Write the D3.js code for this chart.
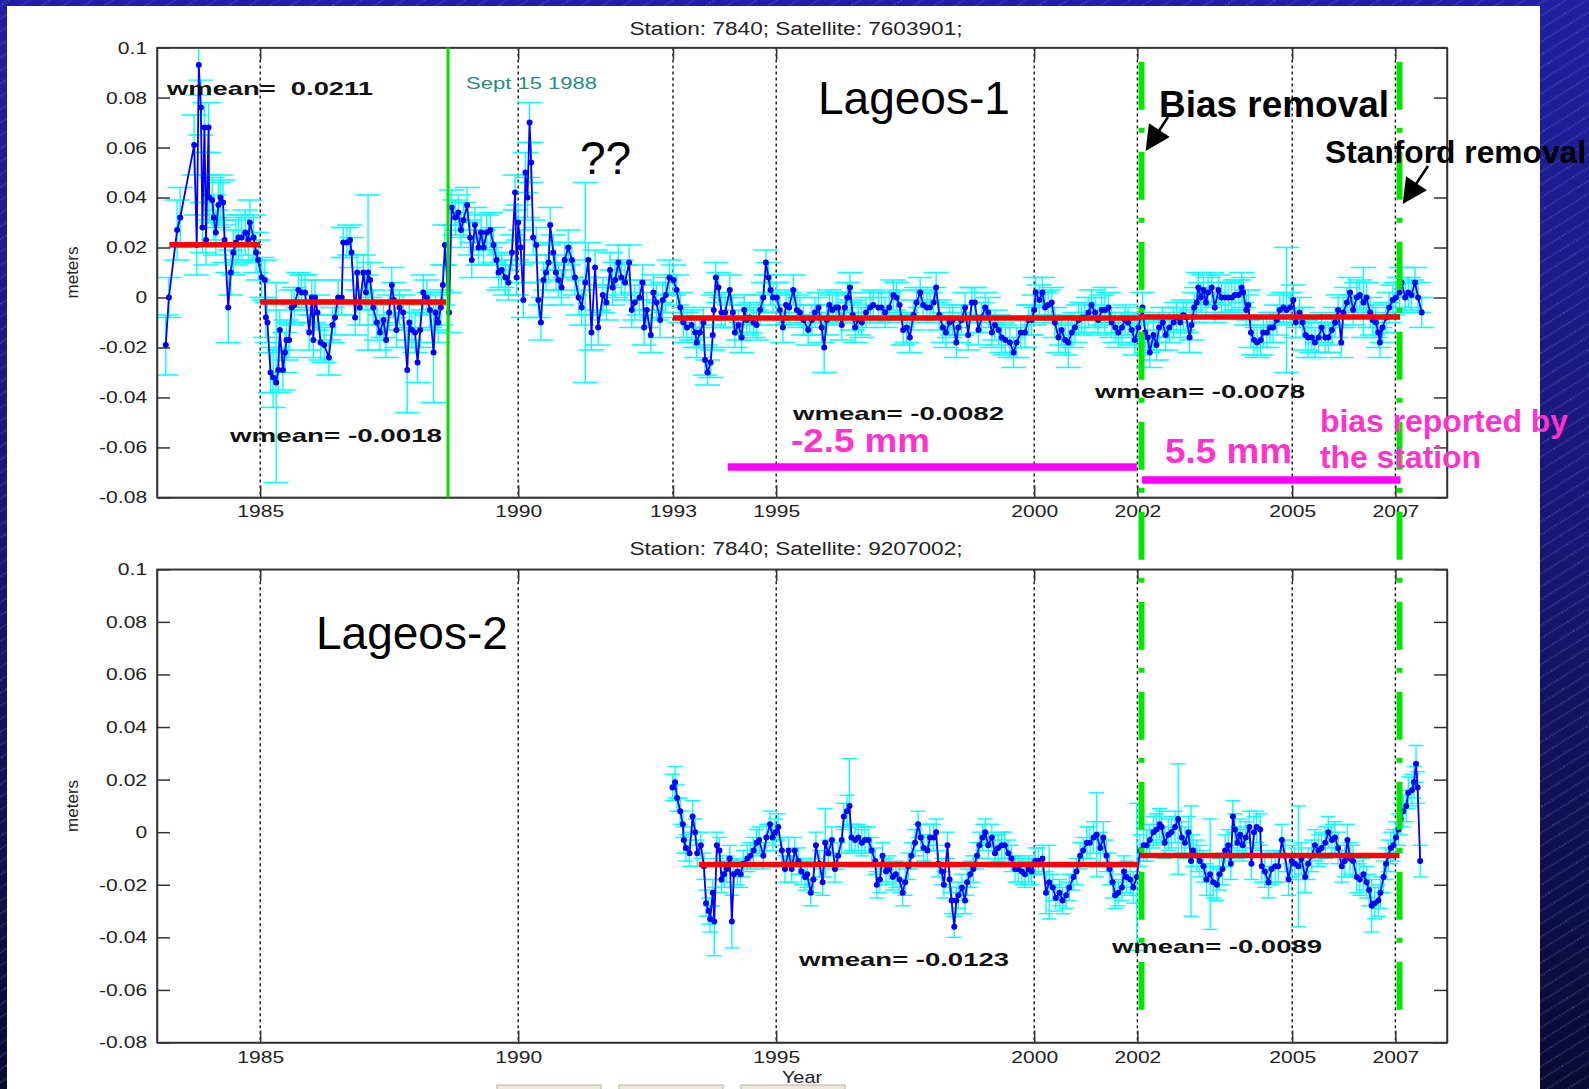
<!DOCTYPE html>
<html>
<head>
<meta charset="utf-8">
<script src="https://cdn.jsdelivr.net/npm/d3@7"></script>
<style>
html, body { margin: 0; padding: 0; background: #0b0b36; overflow: hidden; }
svg { display: block; }
</style>
</head>
<body>
<div id="chart"></div>
<script>
var svgWidth = 1589;
var svgHeight = 1089;

// ---- data: [year, weighted residual (m), error (m)] ----
var lageos1 = [
  [1983.17,-0.019,0.012],[1983.23,0.000,0.008],[1983.39,0.027,0.012],[1983.45,0.032,0.012],[1983.72,0.061,0.012],
  [1983.77,0.021,0.012],[1983.81,0.093,0.012],[1983.85,0.076,0.011],[1983.88,0.028,0.010],[1983.92,0.068,0.010],
  [1983.95,0.023,0.010],[1984.00,0.068,0.010],[1984.01,0.040,0.009],[1984.07,0.039,0.009],[1984.10,0.032,0.009],
  [1984.14,0.026,0.009],[1984.19,0.037,0.009],[1984.23,0.040,0.009],[1984.28,0.038,0.009],[1984.31,0.023,0.009],
  [1984.38,-0.004,0.014],[1984.43,0.010,0.009],[1984.48,0.018,0.009],[1984.53,0.022,0.009],[1984.58,0.024,0.009],
  [1984.64,0.024,0.009],[1984.71,0.026,0.009],[1984.77,0.023,0.009],[1984.80,0.030,0.009],[1984.87,0.024,0.009],
  [1984.92,0.018,0.008],[1984.96,0.015,0.008],[1985.03,0.008,0.008],[1985.09,0.007,0.008],[1985.11,-0.008,0.008],
  [1985.14,-0.010,0.008],[1985.20,-0.030,0.008],[1985.25,-0.032,0.012],[1985.31,-0.034,0.040],[1985.35,-0.029,0.009],
  [1985.38,-0.013,0.008],[1985.44,-0.029,0.008],[1985.48,-0.022,0.008],[1985.51,-0.017,0.008],[1985.56,-0.017,0.007],
  [1985.61,-0.004,0.007],[1985.66,-0.003,0.007],[1985.74,0.003,0.007],[1985.80,0.002,0.007],[1985.87,0.002,0.007],
  [1985.95,-0.014,0.007],[1986.00,0.000,0.007],[1986.03,-0.017,0.007],[1986.06,0.000,0.007],[1986.11,-0.006,0.007],
  [1986.17,-0.018,0.007],[1986.24,-0.019,0.007],[1986.33,-0.024,0.007],[1986.40,-0.011,0.007],[1986.45,-0.008,0.007],
  [1986.51,0.000,0.007],[1986.58,0.000,0.007],[1986.61,0.022,0.006],[1986.68,0.022,0.006],[1986.74,0.023,0.006],
  [1986.77,0.018,0.006],[1986.84,-0.008,0.007],[1986.88,0.010,0.007],[1986.93,-0.004,0.007],[1987.00,0.010,0.007],
  [1987.05,0.002,0.007],[1987.09,0.010,0.031],[1987.13,0.007,0.007],[1987.19,-0.004,0.007],[1987.26,-0.010,0.007],
  [1987.32,-0.014,0.007],[1987.39,-0.009,0.007],[1987.44,-0.017,0.007],[1987.50,-0.006,0.007],[1987.55,0.005,0.007],
  [1987.59,-0.001,0.007],[1987.64,-0.013,0.007],[1987.70,-0.004,0.007],[1987.77,-0.006,0.007],[1987.85,-0.029,0.017],
  [1987.89,-0.010,0.007],[1987.94,-0.013,0.007],[1988.00,-0.014,0.008],[1988.05,-0.026,0.008],[1988.10,-0.013,0.007],
  [1988.16,0.002,0.007],[1988.23,0.000,0.007],[1988.29,-0.005,0.007],[1988.36,-0.022,0.020],[1988.40,-0.006,0.007],
  [1988.45,-0.010,0.008],[1988.50,-0.004,0.007],[1988.54,0.005,0.008],[1988.58,0.021,0.008],[1988.66,-0.006,0.008],
  [1988.71,0.036,0.007],[1988.78,0.032,0.007],[1988.84,0.034,0.007],[1988.89,0.027,0.007],[1988.94,0.031,0.007],
  [1989.01,0.037,0.007],[1989.07,0.024,0.007],[1989.10,0.015,0.007],[1989.16,0.029,0.007],[1989.23,0.020,0.007],
  [1989.28,0.026,0.007],[1989.33,0.020,0.007],[1989.39,0.026,0.007],[1989.46,0.027,0.007],[1989.52,0.021,0.007],
  [1989.58,0.015,0.007],[1989.62,0.010,0.007],[1989.68,0.011,0.007],[1989.75,0.008,0.007],[1989.81,0.006,0.007],
  [1989.88,0.018,0.007],[1989.94,0.042,0.007],[1989.97,0.008,0.007],[1990.00,0.030,0.007],[1990.05,0.020,0.007],
  [1990.10,-0.001,0.007],[1990.14,0.050,0.008],[1990.18,0.040,0.008],[1990.22,0.070,0.008],[1990.25,0.054,0.008],
  [1990.29,0.024,0.007],[1990.35,0.021,0.007],[1990.39,-0.001,0.007],[1990.44,-0.010,0.007],[1990.49,0.007,0.007],
  [1990.54,0.010,0.007],[1990.59,0.014,0.007],[1990.62,0.029,0.007],[1990.68,0.018,0.007],[1990.73,0.010,0.007],
  [1990.78,0.007,0.007],[1990.84,0.004,0.007],[1990.90,0.015,0.007],[1990.97,0.020,0.007],[1991.04,0.015,0.007],
  [1991.10,0.008,0.007],[1991.17,0.000,0.007],[1991.23,-0.004,0.007],[1991.30,0.006,0.040],[1991.36,0.015,0.007],
  [1991.42,-0.014,0.007],[1991.49,0.012,0.007],[1991.55,-0.012,0.007],[1991.64,0.001,0.007],[1991.71,-0.002,0.007],
  [1991.78,0.011,0.007],[1991.83,0.004,0.007],[1991.88,0.007,0.007],[1991.94,0.014,0.007],[1992.00,0.008,0.007],
  [1992.07,0.006,0.007],[1992.15,0.014,0.007],[1992.20,-0.005,0.007],[1992.26,-0.002,0.007],[1992.35,0.000,0.007],
  [1992.41,0.006,0.007],[1992.44,-0.012,0.007],[1992.49,-0.005,0.007],[1992.57,-0.015,0.007],[1992.62,0.002,0.007],
  [1992.68,-0.002,0.007],[1992.75,-0.009,0.007],[1992.80,-0.001,0.007],[1992.86,0.001,0.007],[1992.93,0.008,0.007],
  [1993.01,0.007,0.006],[1993.07,0.003,0.006],[1993.14,-0.004,0.006],[1993.20,-0.010,0.006],[1993.27,-0.012,0.006],
  [1993.36,-0.011,0.006],[1993.43,-0.014,0.006],[1993.46,-0.018,0.006],[1993.52,-0.014,0.006],[1993.59,-0.010,0.006],
  [1993.62,-0.025,0.006],[1993.67,-0.030,0.005],[1993.73,-0.026,0.006],[1993.77,-0.015,0.006],[1993.79,-0.005,0.006],
  [1993.83,0.008,0.006],[1993.88,0.004,0.006],[1993.94,-0.006,0.006],[1994.01,-0.006,0.006],[1994.10,0.003,0.006],
  [1994.16,-0.006,0.006],[1994.20,-0.014,0.006],[1994.27,-0.011,0.006],[1994.33,-0.016,0.006],[1994.38,-0.005,0.006],
  [1994.43,-0.009,0.006],[1994.49,-0.008,0.006],[1994.56,-0.010,0.006],[1994.62,-0.011,0.006],[1994.69,-0.005,0.006],
  [1994.75,0.000,0.006],[1994.80,0.014,0.005],[1994.85,0.008,0.006],[1994.89,0.003,0.006],[1994.94,0.000,0.006],
  [1995.01,0.000,0.006],[1995.07,-0.005,0.006],[1995.13,-0.012,0.006],[1995.19,-0.003,0.006],[1995.25,-0.004,0.006],
  [1995.33,0.003,0.006],[1995.40,-0.005,0.006],[1995.46,-0.006,0.006],[1995.53,-0.009,0.006],[1995.62,-0.013,0.006],
  [1995.69,-0.009,0.006],[1995.75,-0.006,0.006],[1995.82,-0.004,0.006],[1995.88,-0.012,0.006],[1995.93,-0.020,0.010],
  [1995.98,-0.009,0.006],[1996.03,-0.003,0.006],[1996.09,-0.005,0.006],[1996.16,-0.004,0.006],[1996.20,-0.004,0.006],
  [1996.27,-0.011,0.006],[1996.33,-0.004,0.006],[1996.38,0.000,0.006],[1996.43,0.004,0.006],[1996.48,-0.007,0.006],
  [1996.53,-0.012,0.006],[1996.59,-0.009,0.006],[1996.66,-0.010,0.006],[1996.74,-0.006,0.006],[1996.82,-0.004,0.006],
  [1996.88,-0.003,0.006],[1996.98,-0.004,0.006],[1997.04,-0.004,0.006],[1997.11,-0.006,0.006],[1997.19,-0.004,0.006],
  [1997.27,0.001,0.006],[1997.33,0.000,0.006],[1997.39,-0.003,0.006],[1997.46,-0.013,0.006],[1997.53,-0.012,0.006],
  [1997.59,-0.016,0.006],[1997.66,-0.007,0.006],[1997.72,-0.002,0.006],[1997.79,0.002,0.006],[1997.85,-0.003,0.006],
  [1997.92,-0.004,0.006],[1997.98,-0.004,0.006],[1998.05,-0.002,0.006],[1998.10,0.004,0.006],[1998.16,-0.007,0.006],
  [1998.23,-0.012,0.006],[1998.29,-0.014,0.006],[1998.36,-0.010,0.006],[1998.42,-0.009,0.006],[1998.49,-0.018,0.006],
  [1998.53,-0.012,0.006],[1998.59,-0.009,0.006],[1998.66,-0.004,0.006],[1998.72,-0.015,0.006],[1998.79,-0.002,0.006],
  [1998.85,-0.002,0.006],[1998.92,-0.013,0.006],[1998.98,-0.008,0.006],[1999.05,-0.004,0.006],[1999.11,-0.006,0.006],
  [1999.18,-0.014,0.006],[1999.24,-0.011,0.006],[1999.31,-0.013,0.006],[1999.37,-0.016,0.006],[1999.44,-0.017,0.006],
  [1999.53,-0.018,0.006],[1999.60,-0.022,0.006],[1999.66,-0.018,0.006],[1999.74,-0.014,0.006],[1999.82,-0.014,0.006],
  [1999.89,-0.009,0.006],[1999.95,-0.009,0.006],[2000.00,-0.005,0.006],[2000.03,0.002,0.006],[2000.10,-0.001,0.006],
  [2000.16,0.002,0.006],[2000.21,-0.004,0.006],[2000.27,-0.003,0.006],[2000.34,-0.002,0.006],[2000.40,-0.010,0.006],
  [2000.47,-0.016,0.006],[2000.53,-0.013,0.006],[2000.60,-0.017,0.006],[2000.66,-0.018,0.010],[2000.73,-0.014,0.006],
  [2000.79,-0.012,0.006],[2000.86,-0.009,0.006],[2000.92,-0.008,0.006],[2000.98,-0.008,0.006],[2001.05,-0.006,0.006],
  [2001.11,-0.003,0.006],[2001.18,-0.006,0.006],[2001.24,-0.009,0.006],[2001.31,-0.005,0.006],[2001.37,-0.005,0.009],
  [2001.44,-0.004,0.006],[2001.50,-0.010,0.006],[2001.57,-0.012,0.006],[2001.63,-0.014,0.006],[2001.70,-0.012,0.006],
  [2001.76,-0.009,0.006],[2001.82,-0.010,0.006],[2001.89,-0.013,0.006],[2001.95,-0.017,0.006],[2002.02,-0.012,0.006],
  [2002.10,-0.004,0.006],[2002.15,-0.014,0.006],[2002.20,-0.016,0.006],[2002.24,-0.022,0.006],[2002.31,-0.015,0.006],
  [2002.37,-0.019,0.006],[2002.42,-0.012,0.006],[2002.49,-0.010,0.006],[2002.55,-0.015,0.006],[2002.62,-0.012,0.006],
  [2002.70,-0.010,0.006],[2002.76,-0.008,0.006],[2002.83,-0.010,0.006],[2002.89,-0.007,0.006],[2002.95,-0.008,0.006],
  [2003.01,-0.016,0.006],[2003.05,-0.011,0.006],[2003.10,-0.004,0.006],[2003.15,-0.002,0.006],[2003.18,0.004,0.006],
  [2003.23,0.000,0.006],[2003.28,0.003,0.006],[2003.33,-0.002,0.006],[2003.37,0.002,0.006],[2003.44,0.004,0.006],
  [2003.50,-0.004,0.006],[2003.57,0.003,0.006],[2003.63,0.000,0.006],[2003.70,0.000,0.006],[2003.76,0.000,0.006],
  [2003.83,0.000,0.006],[2003.89,0.001,0.006],[2003.96,0.001,0.006],[2004.02,0.004,0.006],[2004.05,0.002,0.006],
  [2004.11,-0.005,0.006],[2004.15,-0.003,0.006],[2004.20,-0.014,0.006],[2004.26,-0.017,0.006],[2004.32,-0.018,0.006],
  [2004.39,-0.017,0.006],[2004.44,-0.014,0.006],[2004.51,-0.014,0.006],[2004.57,-0.012,0.006],[2004.63,-0.012,0.006],
  [2004.70,-0.009,0.006],[2004.76,-0.005,0.006],[2004.83,-0.004,0.006],[2004.89,-0.005,0.025],[2004.96,-0.004,0.006],
  [2005.02,-0.001,0.006],[2005.07,-0.010,0.006],[2005.14,-0.006,0.006],[2005.20,-0.010,0.006],[2005.26,-0.015,0.006],
  [2005.31,-0.016,0.008],[2005.38,-0.016,0.006],[2005.44,-0.018,0.006],[2005.51,-0.016,0.006],[2005.57,-0.012,0.006],
  [2005.64,-0.016,0.006],[2005.70,-0.016,0.006],[2005.77,-0.013,0.006],[2005.83,-0.010,0.006],[2005.89,-0.005,0.006],
  [2005.95,-0.018,0.006],[2005.99,-0.006,0.006],[2006.06,-0.002,0.006],[2006.12,0.002,0.006],[2006.18,-0.005,0.006],
  [2006.25,0.000,0.006],[2006.31,0.001,0.006],[2006.38,-0.002,0.014],[2006.44,0.000,0.006],[2006.51,-0.006,0.006],
  [2006.56,-0.009,0.006],[2006.62,-0.010,0.006],[2006.67,-0.014,0.006],[2006.70,-0.018,0.006],[2006.75,-0.012,0.006],
  [2006.82,-0.008,0.006],[2006.88,-0.004,0.006],[2006.95,-0.001,0.006],[2007.01,0.000,0.006],[2007.08,0.002,0.006],
  [2007.12,0.006,0.006],[2007.19,0.000,0.006],[2007.25,0.002,0.006],[2007.31,0.001,0.006],[2007.38,0.006,0.006],
  [2007.44,0.000,0.006],[2007.51,-0.006,0.006]
];

var lageos2 = [
  [1992.99,0.017,0.005],[1993.04,0.019,0.006],[1993.08,0.013,0.005],[1993.14,0.008,0.005],[1993.19,0.003,0.005],
  [1993.21,-0.003,0.005],[1993.25,-0.006,0.005],[1993.32,-0.008,0.005],[1993.38,0.006,0.006],[1993.43,0.000,0.005],
  [1993.47,-0.008,0.005],[1993.54,-0.005,0.005],[1993.60,-0.013,0.005],[1993.64,-0.027,0.005],[1993.69,-0.030,0.005],
  [1993.72,-0.033,0.005],[1993.77,-0.023,0.005],[1993.80,-0.034,0.013],[1993.85,-0.005,0.005],[1993.90,-0.007,0.005],
  [1993.94,-0.018,0.005],[1993.99,-0.016,0.005],[1994.04,-0.014,0.005],[1994.10,-0.010,0.005],[1994.14,-0.034,0.010],
  [1994.18,-0.016,0.005],[1994.25,-0.015,0.005],[1994.31,-0.016,0.005],[1994.36,-0.012,0.005],[1994.44,-0.010,0.005],
  [1994.50,-0.009,0.005],[1994.56,-0.007,0.005],[1994.62,-0.004,0.005],[1994.67,-0.003,0.005],[1994.75,-0.009,0.005],
  [1994.81,-0.002,0.005],[1994.88,0.003,0.005],[1994.93,-0.002,0.005],[1994.98,0.000,0.005],[1995.04,0.002,0.005],
  [1995.11,-0.007,0.005],[1995.17,-0.014,0.005],[1995.24,-0.007,0.005],[1995.30,-0.014,0.005],[1995.36,-0.007,0.005],
  [1995.43,-0.011,0.005],[1995.49,-0.015,0.005],[1995.56,-0.017,0.005],[1995.60,-0.016,0.005],[1995.67,-0.023,0.005],
  [1995.72,-0.018,0.005],[1995.77,-0.005,0.005],[1995.84,-0.012,0.005],[1995.90,-0.019,0.005],[1995.95,-0.004,0.013],
  [1996.01,-0.008,0.005],[1996.08,-0.003,0.005],[1996.14,-0.014,0.005],[1996.20,-0.009,0.005],[1996.27,-0.003,0.005],
  [1996.31,0.006,0.005],[1996.37,0.008,0.006],[1996.42,0.010,0.018],[1996.46,-0.002,0.005],[1996.53,-0.003,0.005],
  [1996.59,-0.002,0.005],[1996.66,-0.004,0.005],[1996.72,-0.003,0.005],[1996.79,-0.003,0.005],[1996.85,-0.007,0.005],
  [1996.92,-0.011,0.005],[1996.95,-0.020,0.005],[1997.01,-0.018,0.005],[1997.06,-0.009,0.005],[1997.13,-0.015,0.005],
  [1997.19,-0.014,0.005],[1997.26,-0.017,0.005],[1997.32,-0.016,0.005],[1997.39,-0.018,0.005],[1997.45,-0.023,0.005],
  [1997.50,-0.019,0.005],[1997.56,-0.013,0.005],[1997.62,-0.009,0.005],[1997.69,-0.004,0.005],[1997.75,0.003,0.005],
  [1997.80,-0.002,0.005],[1997.86,-0.006,0.005],[1997.93,-0.007,0.005],[1997.98,-0.002,0.005],[1998.05,-0.002,0.005],
  [1998.10,0.000,0.005],[1998.14,-0.012,0.005],[1998.21,-0.015,0.005],[1998.25,-0.020,0.005],[1998.32,-0.005,0.005],
  [1998.36,-0.018,0.005],[1998.40,-0.026,0.005],[1998.45,-0.036,0.004],[1998.49,-0.026,0.005],[1998.53,-0.024,0.005],
  [1998.60,-0.021,0.005],[1998.66,-0.026,0.005],[1998.70,-0.019,0.005],[1998.76,-0.016,0.005],[1998.82,-0.014,0.005],
  [1998.89,-0.009,0.005],[1998.94,-0.005,0.005],[1999.00,-0.002,0.005],[1999.05,0.000,0.005],[1999.11,-0.005,0.005],
  [1999.18,-0.002,0.005],[1999.24,-0.008,0.005],[1999.30,-0.006,0.005],[1999.37,-0.005,0.005],[1999.43,-0.005,0.005],
  [1999.50,-0.008,0.005],[1999.56,-0.010,0.005],[1999.63,-0.014,0.005],[1999.69,-0.014,0.005],[1999.76,-0.015,0.005],
  [1999.82,-0.016,0.005],[1999.89,-0.014,0.005],[1999.95,-0.015,0.005],[2000.02,-0.011,0.005],[2000.08,-0.011,0.005],
  [2000.16,-0.010,0.005],[2000.23,-0.023,0.008],[2000.29,-0.019,0.014],[2000.36,-0.021,0.005],[2000.42,-0.025,0.005],
  [2000.49,-0.023,0.005],[2000.55,-0.026,0.005],[2000.62,-0.024,0.005],[2000.68,-0.021,0.005],[2000.76,-0.017,0.005],
  [2000.82,-0.015,0.005],[2000.89,-0.009,0.005],[2000.95,-0.007,0.005],[2001.02,-0.004,0.006],[2001.08,-0.004,0.006],
  [2001.15,-0.002,0.006],[2001.21,-0.001,0.016],[2001.28,-0.006,0.006],[2001.34,-0.002,0.006],[2001.40,-0.009,0.006],
  [2001.46,-0.014,0.006],[2001.52,-0.019,0.006],[2001.57,-0.024,0.005],[2001.63,-0.023,0.005],[2001.70,-0.021,0.005],
  [2001.74,-0.015,0.006],[2001.79,-0.017,0.006],[2001.86,-0.018,0.006],[2001.92,-0.021,0.006],[2001.99,-0.017,0.028],
  [2002.05,-0.007,0.006],[2002.12,-0.005,0.006],[2002.18,-0.005,0.006],[2002.24,-0.003,0.006],[2002.31,0.000,0.006],
  [2002.37,0.001,0.006],[2002.43,0.003,0.006],[2002.47,0.002,0.006],[2002.53,-0.004,0.006],[2002.60,-0.001,0.006],
  [2002.66,0.000,0.006],[2002.73,0.002,0.006],[2002.79,0.005,0.021],[2002.86,-0.002,0.006],[2002.92,-0.004,0.006],
  [2002.99,0.000,0.006],[2003.04,-0.011,0.021],[2003.08,-0.007,0.006],[2003.15,-0.009,0.006],[2003.21,-0.011,0.006],
  [2003.28,-0.013,0.006],[2003.34,-0.018,0.006],[2003.41,-0.016,0.021],[2003.47,-0.019,0.006],[2003.54,-0.020,0.006],
  [2003.59,-0.016,0.006],[2003.65,-0.014,0.006],[2003.70,-0.007,0.006],[2003.76,-0.005,0.006],[2003.81,-0.012,0.006],
  [2003.85,0.006,0.006],[2003.89,0.001,0.006],[2003.94,-0.004,0.006],[2003.99,-0.001,0.006],[2004.04,-0.005,0.006],
  [2004.10,-0.002,0.006],[2004.17,0.002,0.006],[2004.21,-0.012,0.006],[2004.26,0.000,0.006],[2004.31,0.002,0.006],
  [2004.38,0.001,0.006],[2004.41,-0.013,0.006],[2004.47,-0.015,0.006],[2004.54,-0.019,0.006],[2004.60,-0.014,0.006],
  [2004.67,-0.013,0.006],[2004.73,-0.013,0.006],[2004.80,-0.003,0.006],[2004.86,-0.009,0.006],[2004.93,-0.018,0.006],
  [2004.99,-0.011,0.006],[2005.05,-0.012,0.006],[2005.12,-0.013,0.023],[2005.18,-0.010,0.006],[2005.25,-0.017,0.006],
  [2005.31,-0.012,0.006],[2005.38,-0.009,0.006],[2005.44,-0.005,0.006],[2005.51,-0.007,0.006],[2005.57,-0.006,0.006],
  [2005.64,-0.004,0.006],[2005.70,0.000,0.006],[2005.77,-0.003,0.006],[2005.83,-0.002,0.006],[2005.89,-0.006,0.006],
  [2005.96,-0.013,0.006],[2006.02,-0.011,0.006],[2006.07,-0.003,0.006],[2006.12,-0.010,0.006],[2006.18,-0.011,0.006],
  [2006.25,-0.017,0.006],[2006.31,-0.018,0.006],[2006.38,-0.016,0.006],[2006.44,-0.019,0.006],[2006.49,-0.022,0.006],
  [2006.54,-0.028,0.010],[2006.60,-0.027,0.006],[2006.67,-0.026,0.006],[2006.71,-0.023,0.006],[2006.77,-0.017,0.006],
  [2006.82,-0.012,0.006],[2006.86,-0.009,0.006],[2006.91,-0.006,0.006],[2006.96,-0.005,0.006],[2007.01,-0.002,0.006],
  [2007.06,0.001,0.006],[2007.10,0.005,0.006],[2007.15,0.008,0.006],[2007.21,0.010,0.006],[2007.25,0.015,0.006],
  [2007.32,0.016,0.006],[2007.36,0.019,0.006],[2007.40,0.026,0.007],[2007.43,0.017,0.006],[2007.48,-0.011,0.006]
];

// weighted means: [from year, to year, value]
var lageos1Means = [[1983.24,1985.0,0.0211],[1985.0,1988.6,-0.0018],[1993.0,2002.02,-0.0082],[2002.02,2007.09,-0.0078]];
var lageos1MeanLabels = ["wmean=  0.0211","wmean= -0.0018","wmean= -0.0082","wmean= -0.0078"];
var lageos2Means = [[1993.5,2002.02,-0.0123],[2002.05,2007.08,-0.0089]];
var lageos2MeanLabels = ["wmean= -0.0123","wmean= -0.0089"];

// station-reported biases drawn in the top panel
var biasBars = [[1994.06,2001.99,-0.0678],[2002.09,2007.10,-0.0730]];
var biasLabels = ["-2.5 mm","5.5 mm"];

var septEvent = 1988.64;
var removalYears = [2002.08, 2007.08];

var topYearTicks = [1985,1990,1993,1995,2000,2002,2005,2007];
var bottomYearTicks = [1985,1990,1995,2000,2002,2005,2007];
var yTicks = [-0.08,-0.06,-0.04,-0.02,0,0.02,0.04,0.06,0.08,0.1];
var yTickLabels = ["-0.08","-0.06","-0.04","-0.02","0","0.02","0.04","0.06","0.08","0.1"];

var FONT = "'Liberation Sans', Arial, Helvetica, sans-serif";
var STRETCH = 1.24;

var svg = d3.select('#chart').append('svg')
    .attr('width', svgWidth)
    .attr('height', svgHeight);

// Background: navy slide with diagonal stripes
var defs = svg.append('defs');
var grad = defs.append('linearGradient').attr('id', 'bgGrad')
    .attr('x1', 0).attr('y1', 0).attr('x2', 0).attr('y2', 1);
grad.append('stop').attr('offset', '0%').attr('stop-color', '#2020a0');
grad.append('stop').attr('offset', '55%').attr('stop-color', '#161670');
grad.append('stop').attr('offset', '100%').attr('stop-color', '#0a0a32');

var pat = defs.append('pattern').attr('id', 'stripes')
    .attr('patternUnits', 'userSpaceOnUse')
    .attr('width', 40).attr('height', 11)
    .attr('patternTransform', 'rotate(-32)');
pat.append('line')
    .attr('x1', 0).attr('x2', 40).attr('y1', 5).attr('y2', 5)
    .attr('stroke', 'rgba(150,150,230,0.55)')
    .attr('stroke-width', 1)
    .attr('stroke-dasharray', '1.5,1.5');

svg.append('rect').attr('width', svgWidth).attr('height', svgHeight).attr('fill', 'url(#bgGrad)');
svg.append('rect').attr('width', svgWidth).attr('height', svgHeight).attr('fill', 'url(#stripes)');
svg.append('rect').attr('x', 7).attr('y', 6).attr('width', 1533).attr('height', 1090).attr('fill', 'white');

// arrow head marker
defs.append('marker').attr('id', 'arrowHead')
    .attr('viewBox', '0 0 10 10').attr('refX', 9).attr('refY', 5)
    .attr('markerUnits', 'userSpaceOnUse')
    .attr('markerWidth', 27).attr('markerHeight', 25)
    .attr('orient', 'auto')
  .append('path').attr('d', 'M0,0 L10,5 L0,10 Z').attr('fill', 'black');

// x scale shared by both panels
var xScale = d3.scaleLinear().domain([1983, 2008]).range([157, 1447]);

// stretched MATLAB-like text
function matText(g, x, y, str, size, opts) {
    opts = opts || {};
    var t = g.append('text')
        .attr('x', x).attr('y', y)
        .style('font-family', FONT)
        .style('font-size', size + 'px')
        .style('font-weight', opts.weight || 'normal')
        .style('white-space', 'pre')
        .attr('fill', opts.fill || '#222')
        .attr('text-anchor', opts.anchor || 'start')
        .text(str);
    if (opts.len) t.attr('textLength', opts.len).attr('lengthAdjust', 'spacingAndGlyphs');
    return t;
}

function drawPanel(id, top, bottom, data, means, meanLabels, labelPos, yearTicks, title, titleY) {
    var yScale = d3.scaleLinear().domain([-0.08, 0.1]).range([bottom, top]);
    var g = svg.append('g');

    defs.append('clipPath').attr('id', 'clip' + id)
      .append('rect').attr('x', 157).attr('y', top).attr('width', 1290).attr('height', bottom - top);

    // dotted year grid
    g.selectAll('.grid').data(yearTicks).enter().append('line')
        .attr('x1', d => xScale(d)).attr('x2', d => xScale(d))
        .attr('y1', top).attr('y2', bottom)
        .attr('stroke', '#111').attr('stroke-width', 1.4)
        .attr('stroke-dasharray', '3,3');

    var plot = g.append('g').attr('clip-path', 'url(#clip' + id + ')');

    // error bars
    var ext = d3.extent(data, d => d[0]);
    var tee = (ext[1] - ext[0]) / 100;
    var eb = plot.append('g').attr('stroke', '#00ffff').attr('stroke-width', 1.4);
    eb.selectAll('.ev').data(data).enter().append('line')
        .attr('x1', d => xScale(d[0])).attr('x2', d => xScale(d[0]))
        .attr('y1', d => yScale(d[1] - d[2])).attr('y2', d => yScale(d[1] + d[2]));
    eb.selectAll('.elo').data(data).enter().append('line')
        .attr('x1', d => xScale(d[0] - tee)).attr('x2', d => xScale(d[0] + tee))
        .attr('y1', d => yScale(d[1] - d[2])).attr('y2', d => yScale(d[1] - d[2]));
    eb.selectAll('.ehi').data(data).enter().append('line')
        .attr('x1', d => xScale(d[0] - tee)).attr('x2', d => xScale(d[0] + tee))
        .attr('y1', d => yScale(d[1] + d[2])).attr('y2', d => yScale(d[1] + d[2]));

    // series line and markers
    var line = d3.line().x(d => xScale(d[0])).y(d => yScale(d[1]));
    plot.append('path').datum(data)
        .attr('d', line).attr('fill', 'none')
        .attr('stroke', '#0000ff').attr('stroke-width', 1.8);
    plot.selectAll('.pt').data(data).enter().append('circle')
        .attr('cx', d => xScale(d[0])).attr('cy', d => yScale(d[1]))
        .attr('r', 3).attr('fill', '#0000ff');

    // weighted means
    plot.selectAll('.wm').data(means).enter().append('line')
        .attr('x1', d => xScale(d[0])).attr('x2', d => xScale(d[1]))
        .attr('y1', d => yScale(d[2])).attr('y2', d => yScale(d[2]))
        .attr('stroke', '#ff0000').attr('stroke-width', 5.5);

    // axes box
    g.append('rect').attr('x', 157).attr('y', top).attr('width', 1290).attr('height', bottom - top)
        .attr('fill', 'none').attr('stroke', '#333').attr('stroke-width', 1.5);

    var leftAxis = d3.axisLeft(yScale).tickValues(yTicks)
        .tickFormat((d, i) => yTickLabels[i]).tickSizeInner(-13).tickSizeOuter(0).tickPadding(8);
    var ga = g.append('g').attr('transform', 'translate(157,0)').call(leftAxis);
    var rightAxis = d3.axisRight(yScale).tickValues(yTicks).tickFormat('').tickSizeInner(-13).tickSizeOuter(0);
    var gr = g.append('g').attr('transform', 'translate(1447,0)').call(rightAxis);
    var bottomAxis = d3.axisBottom(xScale).tickValues(yearTicks)
        .tickFormat(d3.format('d')).tickSizeInner(-12).tickSizeOuter(0).tickPadding(8);
    var gb = g.append('g').attr('transform', `translate(0, ${bottom})`).call(bottomAxis);
    var topAxis = d3.axisTop(xScale).tickValues(yearTicks).tickFormat('').tickSizeInner(-12).tickSizeOuter(0);
    var gt = g.append('g').attr('transform', `translate(0, ${top})`).call(topAxis);

    [ga, gr, gb, gt].forEach(function (a) {
        a.select('.domain').attr('stroke', '#333').attr('stroke-width', 1.5);
        a.selectAll('.tick line').attr('stroke', '#333').attr('stroke-width', 1.5);
        a.selectAll('text')
            .style('font-family', FONT).style('font-size', '17px')
            .attr('fill', '#222')
            .attr('transform', `scale(${STRETCH},1)`);
    });

    // titles
    matText(g, 796, titleY, title, 18, { anchor: 'middle', len: 333 });
    g.append('text')
        .attr('transform', `translate(78, ${(top + bottom) / 2}) rotate(-90)`)
        .attr('text-anchor', 'middle')
        .style('font-family', FONT).style('font-size', '17px')
        .attr('fill', '#222')
        .text('meters');

    // wmean labels
    meanLabels.forEach(function (s, i) {
        matText(g, labelPos[i][0], labelPos[i][1], s, 19, { weight: 'bold', len: labelPos[i][2], fill: '#111' });
    });

    return yScale;
}

var yTop = drawPanel('A', 47.6, 497.4, lageos1, lageos1Means, lageos1MeanLabels,
    [[167, 95, 206], [230, 442, 212], [793, 420, 211], [1095, 398, 210]],
    topYearTicks, 'Station: 7840; Satellite: 7603901;', 35);

var yBottom = drawPanel('B', 569.3, 1042.5, lageos2, lageos2Means, lageos2MeanLabels,
    [[799, 966, 210], [1112, 953, 210]],
    bottomYearTicks, 'Station: 7840; Satellite: 9207002;', 555);

var ann = svg.append('g');

// Sept 15 1988 event line
ann.append('line')
    .attr('x1', xScale(septEvent)).attr('x2', xScale(septEvent))
    .attr('y1', yTop(0.1)).attr('y2', yTop(-0.08))
    .attr('stroke', '#00dd00').attr('stroke-width', 3);
matText(ann, 466, 89, 'Sept 15 1988', 17, { fill: '#2a8a80', len: 131 });

// bias removal / Stanford removal dashed lines
ann.selectAll('.rem').data(removalYears).enter().append('line')
    .attr('x1', d => xScale(d)).attr('x2', d => xScale(d))
    .attr('y1', 61.7).attr('y2', 1009.7)
    .attr('stroke', '#00e600').attr('stroke-width', 6)
    .attr('stroke-dasharray', '48,18,5,19');

// station reported bias bars
ann.selectAll('.bb').data(biasBars).enter().append('line')
    .attr('x1', d => xScale(d[0])).attr('x2', d => xScale(d[1]))
    .attr('y1', d => yTop(d[2])).attr('y2', d => yTop(d[2]))
    .attr('stroke', '#ff00ff').attr('stroke-width', 7.5);

var PINK = '#ff33cc';
matText(ann, 791, 452, biasLabels[0], 33, { weight: 'bold', fill: PINK, len: 139 });
matText(ann, 1165, 463, biasLabels[1], 35, { weight: 'bold', fill: PINK, len: 127 });
matText(ann, 1320, 432, 'bias reported by', 31, { weight: 'bold', fill: PINK, len: 248 });
matText(ann, 1320, 468, 'the station', 31, { weight: 'bold', fill: PINK, len: 161 });

// big labels
matText(ann, 818, 114, 'Lageos-1', 46, { fill: '#000' });
matText(ann, 580, 174, '??', 46, { fill: '#000' });
matText(ann, 316, 649, 'Lageos-2', 46, { fill: '#000' });
matText(ann, 1159, 117, 'Bias removal', 36, { weight: 'bold', fill: '#000', len: 230 });
matText(ann, 1325, 163, 'Stanford removal', 31, { weight: 'bold', fill: '#000', len: 261 });

// arrows
ann.append('line').attr('x1', 1168).attr('y1', 117).attr('x2', 1147).attr('y2', 149)
    .attr('stroke', 'black').attr('stroke-width', 2.5).attr('marker-end', 'url(#arrowHead)');
ann.append('line').attr('x1', 1428).attr('y1', 166).attr('x2', 1404).attr('y2', 202)
    .attr('stroke', 'black').attr('stroke-width', 2.5).attr('marker-end', 'url(#arrowHead)');

// x label and toolbar remnants at the bottom edge
ann.append('text').attr('x', 802 / STRETCH).attr('y', 1083)
    .attr('transform', `scale(${STRETCH},1)`)
    .attr('text-anchor', 'middle')
    .style('font-family', FONT).style('font-size', '16px').attr('fill', '#222')
    .text('Year');
[497, 619, 741].forEach(function (bx) {
    ann.append('rect').attr('x', bx).attr('y', 1085).attr('width', 104).attr('height', 12)
        .attr('fill', '#ece9d8').attr('stroke', '#b5b2a5');
});
</script>
</body>
</html>
